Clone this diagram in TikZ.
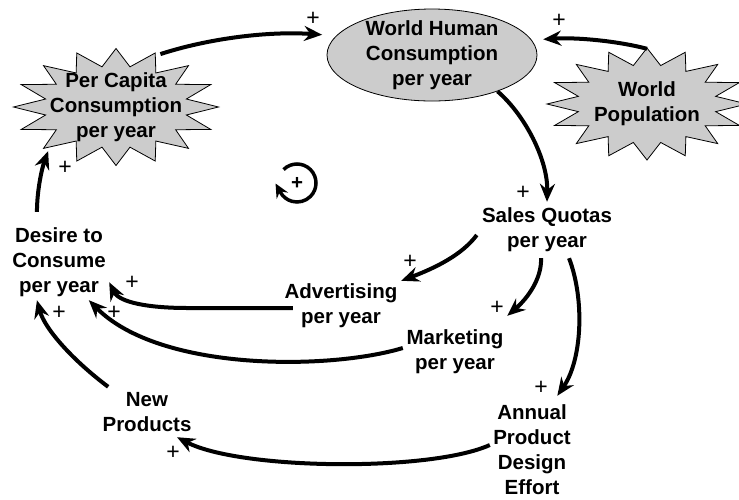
\documentclass[tikz,border=0pt]{standalone}
\usepackage{fontspec}
\setmainfont{Liberation Sans}
\usetikzlibrary{arrows.meta,shapes.geometric,backgrounds}

% Stern hinter einem Knoten: #1 Knoten, #2/#3 Radien
\newcommand{\burst}[3]{%
    \begin{pgfonlayer}{background}
        \draw[burstline, shift={(#1.center)}]
            plot[samples at={0,...,31}, variable=\k]
            ({(1-0.3*mod(\k,2))*#2*cos(\k*11.25)},
             {(1-0.3*mod(\k,2))*#3*sin(\k*11.25)}) -- cycle;
    \end{pgfonlayer}}

\begin{document}
\begin{tikzpicture}[
        x=1pt, y=-1pt,
        font=\fontsize{20.5}{25}\selectfont\bfseries,
        >={Stealth[length=18pt,width=15pt,inset=6pt]},
        var/.style={
            align=center,
            inner sep=0pt
        },
        level/.style={
            ellipse,
            draw=black,
            line width=0.8pt,
            fill=black!20,
            align=center,
            inner xsep=0pt,
            inner ysep=-5pt
        },
        burstline/.style={
            draw=black,
            line width=0.8pt,
            fill=black!20
        },
        link/.style={
            ->,
            line width=4pt
        },
        sign/.style={
            font=\fontsize{23}{25}\selectfont\mdseries,
            inner sep=0pt
        }
    ]

    \useasboundingbox (0,0) rectangle (739,499);

    % Bestaende oben
    \node[level, minimum width=210pt, minimum height=92pt] (whc) at (432,55) {
        World Human\\
        Consumption\\
        per year
    };

    \node[var, ellipse, minimum width=205pt, minimum height=117pt] (pc) at (116,107) {
        Per Capita\\
        Consumption\\
        per year
    };
    \burst{pc}{102.5}{58.5}

    \node[var, ellipse, minimum width=200pt, minimum height=110pt] (wp) at (647,104) {
        World\\
        Population
    };
    \burst{wp}{100}{56}

    % Variablen
    \node[var, minimum width=100pt, minimum height=76pt] (desire) at (59,262) {
        Desire to\\
        Consume\\
        per year
    };

    \node[var, minimum width=140pt, minimum height=56pt] (sales) at (547,230) {
        Sales Quotas\\
        per year
    };

    \node[var, minimum width=120pt, minimum height=50pt] (adv) at (341,306) {
        Advertising\\
        per year
    };

    \node[var, minimum width=104pt, minimum height=60pt] (mkt) at (455,352) {
        Marketing\\
        per year
    };

    \node[var, minimum width=84pt, minimum height=108pt] (design) at (532,450) {
        Annual\\
        Product\\
        Design\\
        Effort
    };

    \node[var, minimum width=94pt, minimum height=50pt] (newp) at (147,412) {
        New\\
        Products
    };

    % Pfeile
    \draw[link] (pc.50) .. controls (210,38) and (270,31) .. ([xshift=-12pt,yshift=3pt]whc.170);
    \draw[link] (wp.north) .. controls (622,42) and (580,37) .. ([xshift=12pt]whc.9);
    \draw[link] (whc.-29) .. controls (525,115) and (548,160) .. (sales.north);
    \draw[link] ([yshift=-5pt]sales.west) .. controls (462,255) and (435,268) .. (adv.north east);
    \draw[link] ([xshift=-6pt]sales.south) .. controls (542,278) and (528,298) .. ([yshift=6pt]mkt.north east);
    \draw[link] (sales.-52) .. controls (585,300) and (582,360) .. (design.65);
    \draw[link] ([xshift=12pt,yshift=-2pt]adv.west) -- ++(-105,0)
        .. controls +(-40,0) and +(10,20) .. (desire.-22);
    \draw[link] ([yshift=4pt]mkt.west) .. controls (330,370) and (160,372) .. (desire.-52);
    \draw[link] ([yshift=5pt]design.west) .. controls (430,472) and (240,470) .. (newp.-40);
    \draw[link] (newp.147) .. controls (75,362) and (45,330) .. (desire.-120);
    \draw[link] ([yshift=12pt]desire.120) .. controls (37,190) and (42,168) .. (pc.213);

    % Vorzeichen
    \foreach \n/\x/\y in {1/313/19, 2/559/21, 3/523/193, 4/410/262, 5/497/308,
                          6/541/388, 7/132/283, 8/114/313, 9/173/453, 10/59/313,
                          11/65/168}
        \node[sign] (plus\n) at (\x,\y) {+};

    % Schleife
    \node[inner sep=0pt] (loop) at (297,183) {+};
    \draw[line width=3.5pt, -{Stealth[length=14pt,width=13pt,inset=5pt]}]
        (loop.center) ++(225:19) arc[start angle=225, end angle=510, radius=19] -- ++(-5,-9);

\end{tikzpicture}
\end{document}
